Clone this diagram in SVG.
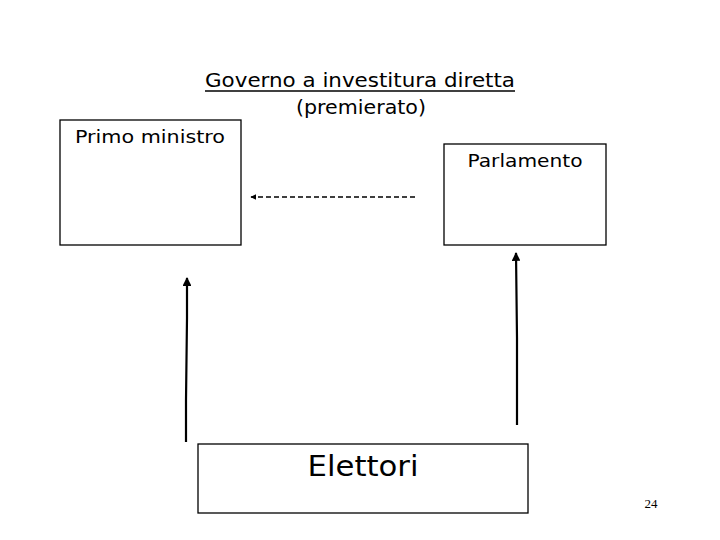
<svg xmlns="http://www.w3.org/2000/svg" width="720" height="540" viewBox="0 0 720 540">
<defs>
<style>
.box{fill:#fff;stroke:#000;stroke-width:1.3}
.t{font-family:"DejaVu Sans","Liberation Sans",sans-serif;fill:#000}
.ln{fill:none;stroke:#000;stroke-width:2.2}
</style>
<marker id="ah" viewBox="0 0 10 10" refX="9" refY="5" markerWidth="4" markerHeight="4" orient="auto-start-reverse" markerUnits="strokeWidth">
<path d="M0,0 L10,5 L0,10 z" fill="#000"/>
</marker>
</defs>
<rect width="720" height="540" fill="#fff"/>
<g id="title">
<text class="t" x="360" y="87" font-size="20" text-anchor="middle" textLength="310" lengthAdjust="spacingAndGlyphs">Governo a investitura diretta</text>
<line x1="205" y1="91" x2="515" y2="91" stroke="#000" stroke-width="1.5"/>
<text class="t" x="361" y="114" font-size="19" text-anchor="middle" textLength="130" lengthAdjust="spacingAndGlyphs">(premierato)</text>
</g>
<g id="primo-ministro">
<rect class="box" x="60" y="120" width="181" height="125"/>
<text class="t" x="150" y="143" font-size="18" text-anchor="middle" textLength="150" lengthAdjust="spacingAndGlyphs">Primo ministro</text>
</g>
<g id="parlamento">
<rect class="box" x="444" y="144" width="162" height="101"/>
<text class="t" x="525" y="167" font-size="18" text-anchor="middle" textLength="115" lengthAdjust="spacingAndGlyphs">Parlamento</text>
</g>
<g id="elettori">
<rect class="box" x="198" y="444" width="330" height="69"/>
<text class="t" x="363" y="476" font-size="28" text-anchor="middle" textLength="111" lengthAdjust="spacingAndGlyphs">Elettori</text>
</g>
<g id="connectors">
<polyline class="ln" points="186,442 186,400 187,318 187,278" marker-end="url(#ah)"/>
<polyline class="ln" points="517,425 517,338 516,253" marker-end="url(#ah)"/>
<line x1="415" y1="197" x2="251" y2="197" stroke="#000" stroke-width="1.5" stroke-dasharray="5,3" marker-end="url(#ah)"/>
</g>
<text x="651" y="508" font-family="Liberation Serif,serif" font-size="13" text-anchor="middle" fill="#000">24</text>
</svg>
